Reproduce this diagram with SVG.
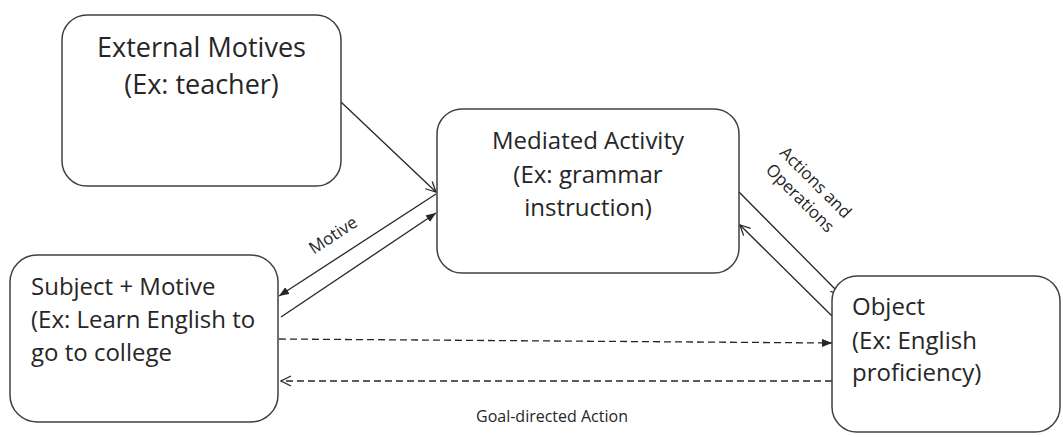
<svg xmlns="http://www.w3.org/2000/svg" width="1063" height="437" viewBox="0 0 1063 437">
<style>
.box{fill:#fff;stroke:#404040;stroke-width:1.5}
.t{font-family:"Open Sans","Liberation Sans",sans-serif;fill:#262626}
.big{font-size:24px}
.lbl{font-size:17px}
.ln{stroke:#262626;stroke-width:1.3;fill:none}
.dash{stroke-dasharray:7 4}
</style>
<defs>
<marker id="fa" markerWidth="10" markerHeight="8" refX="10" refY="4" orient="auto" markerUnits="userSpaceOnUse"><path d="M0,0 L10,4 L0,8 z" fill="#262626"/></marker>
<marker id="oa" markerWidth="12" markerHeight="12" refX="11" refY="6" orient="auto" markerUnits="userSpaceOnUse"><path d="M1,1 L11,6 L1,11" fill="none" stroke="#262626" stroke-width="1.3"/></marker>
</defs>
<rect width="1063" height="437" fill="#fff"/>
<g id="connectors">
<line class="ln" x1="341" y1="102" x2="436" y2="192" marker-end="url(#oa)"/>
<line class="ln" x1="436" y1="194" x2="279" y2="296" marker-end="url(#fa)"/>
<line class="ln" x1="281" y1="317" x2="436" y2="213" marker-end="url(#fa)"/>
<line class="ln" x1="739" y1="192" x2="841" y2="295" marker-end="url(#oa)"/>
<line class="ln" x1="832" y1="316" x2="740" y2="225" marker-end="url(#oa)"/>
<line class="ln dash" x1="279" y1="339" x2="832" y2="343" marker-end="url(#fa)"/>
<line class="ln dash" x1="832" y1="381" x2="281" y2="381" marker-end="url(#oa)"/>
<text class="t lbl" transform="translate(333,235) rotate(-33)" text-anchor="middle" y="6">Motive</text>
<g class="t lbl" transform="translate(808,190) rotate(45)" text-anchor="middle">
<text y="-5">Actions and</text>
<text y="17">Operations</text>
</g>
<text class="t" style="font-size:16px" x="552" y="422" text-anchor="middle">Goal-directed Action</text>
</g>
<g id="external">
<rect class="box" x="62" y="15" width="279" height="171" rx="25"/>
<text class="t" style="font-size:27px" text-anchor="middle"><tspan x="201.5" y="57">External Motives</tspan><tspan x="201.5" y="94">(Ex: teacher)</tspan></text>
</g>
<g id="mediated">
<rect class="box" x="437" y="109" width="302" height="164" rx="25"/>
<text class="t big" text-anchor="middle"><tspan x="588" y="149">Mediated Activity</tspan><tspan x="588" y="183">(Ex: grammar</tspan><tspan x="588" y="216">instruction)</tspan></text>
</g>
<g id="subject">
<rect class="box" x="10" y="255" width="268" height="167" rx="27"/>
<text class="t big"><tspan x="31" y="295">Subject + Motive</tspan><tspan x="31" y="328">(Ex: Learn English to</tspan><tspan x="31" y="361">go to college</tspan></text>
</g>
<g id="object">
<rect class="box" x="832" y="276" width="228" height="156" rx="25"/>
<text class="t big"><tspan x="852" y="315">Object</tspan><tspan x="852" y="349">(Ex: English</tspan><tspan x="852" y="381">proficiency)</tspan></text>
</g>
</svg>
